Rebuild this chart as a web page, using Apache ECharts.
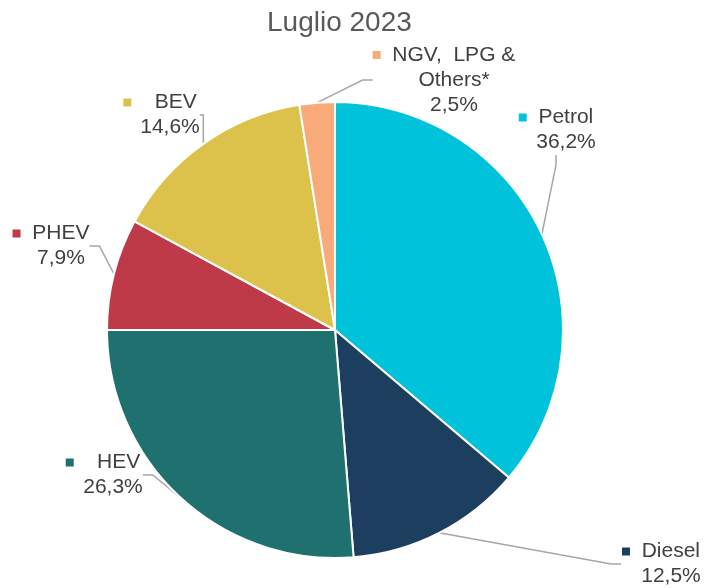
<!DOCTYPE html>
<html><head><meta charset="utf-8">
<script src="https://cdn.jsdelivr.net/npm/echarts@6/dist/echarts.min.js"></script>
<style>html,body{margin:0;padding:0;background:#fff}#c{width:704px;height:588px}</style>
</head><body><div id="c"></div>
<script>
const title = 'Luglio 2023';
const categories = ['Petrol', 'Diesel', 'HEV', 'PHEV', 'BEV', 'NGV,  LPG &\nOthers*'];
const values = [36.2, 12.5, 26.3, 7.9, 14.6, 2.5];
const colors = ['#00C3DB', '#1D3F5F', '#1F7170', '#BF3A48', '#DCC24B', '#F9AA7B'];
// label anchor positions and marker gaps (style only)
const labelPos = [[556,130],[661,564],[103,475],[51,246],[160,115],[444,80]];
const markerGap = [2, 2, 4, 2, 4, 2];

const chart = echarts.init(document.getElementById('c'), null, {renderer:'canvas'});
const fmt = v => v.toFixed(1).replace('.', ',') + '%';
const rich = {v: {padding: [0, 0, 0, 20]}};
colors.forEach((c, i) => { rich['m' + i] = {width: 8, height: 8, backgroundColor: c}; });
chart.setOption({
  backgroundColor: '#fff',
  title: {text: title, left: 262, top: 4,
    textStyle: {fontFamily: 'Liberation Sans, Arial', fontSize: 28, fontWeight: 'normal', color: '#595959'}},
  series: [{
    type: 'pie',
    center: [335, 330],
    radius: [0, 228],
    startAngle: 90,
    clockwise: true,
    animation: false,
    itemStyle: {borderColor: '#fff', borderWidth: 2},
    data: categories.map((c, i) => ({name: c, value: values[i], itemStyle: {color: colors[i]}})),
    label: {
      show: true,
      position: 'outside',
      fontFamily: 'Liberation Sans, Arial',
      fontSize: 21,
      color: '#404040',
      lineHeight: 25,
      align: 'center',
      formatter: p => {
        const key = 'm' + p.dataIndex;
        const lines = p.name.split('\n');
        const first = '{' + key + '|}' + ' '.repeat(markerGap[p.dataIndex]) + lines[0];
        const rest = lines.slice(1).map(l => '{v|' + l + '}');
        return [first].concat(rest).concat(['{v|' + fmt(p.value) + '}']).join('\n');
      },
      rich: rich
    },
    labelLine: {show: true, lineStyle: {color: '#A6A6A6', width: 1.5}, length: 15, length2: 10},
    labelLayout: p => ({x: labelPos[p.dataIndex][0], y: labelPos[p.dataIndex][1], align: 'center', verticalAlign: 'middle'})
  }]
});
</script></body></html>
